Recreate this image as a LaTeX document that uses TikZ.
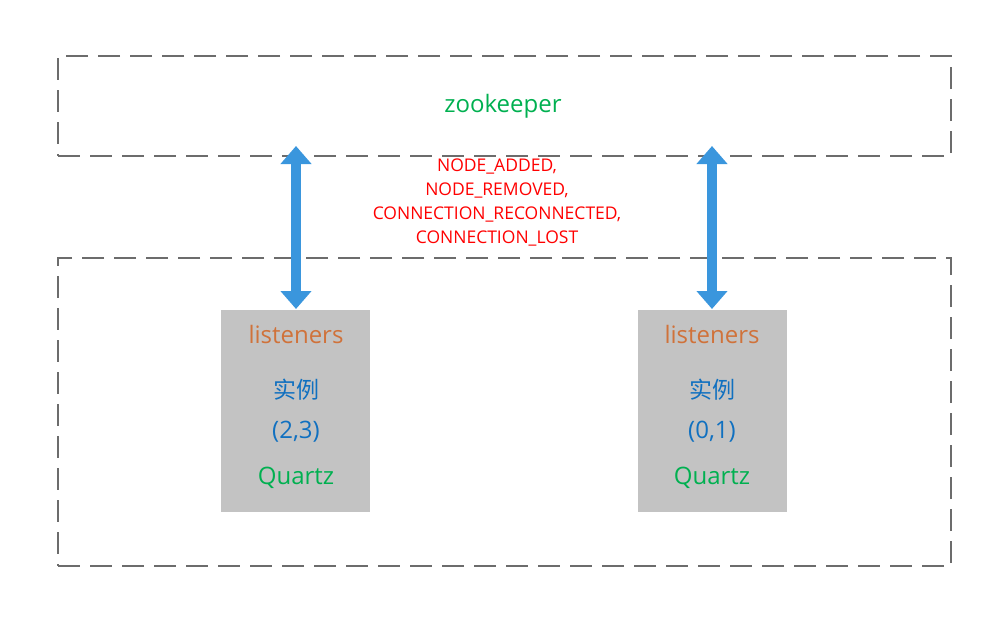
\documentclass[tikz,border=0pt]{standalone}
\usepackage{fontspec}
\setmainfont{Open Sans}
\newfontfamily\cjk{Noto Sans CJK SC}
\usetikzlibrary{arrows.meta}
\definecolor{zkgreen}{HTML}{00B050}
\definecolor{lorange}{HTML}{D0723A}
\definecolor{iblue}{HTML}{1070C0}
\definecolor{ablue}{HTML}{3A96DD}
\definecolor{boxgray}{HTML}{C3C3C3}
\begin{document}
\begin{tikzpicture}[x=1pt,y=-1pt,
  frame/.style={draw=gray!85!black,line width=2pt,dash pattern=on 22pt off 10pt},
  inst/.style={fill=boxgray,draw=none,minimum width=149pt,minimum height=202pt,anchor=north west},
  harrow/.style={ablue,line width=10pt,{Triangle[width=30pt,length=18pt]}-{Triangle[width=30pt,length=18pt]}},
  lbl/.style={font=\fontsize{24}{28}\selectfont},
  evt/.style={red,font=\fontsize{17.5}{24}\selectfont,align=center}]
\useasboundingbox (0,0) rectangle (1003,619);
\node[frame,minimum width=893pt,minimum height=100pt,anchor=north west] (zk) at (57,55) {};
\node[frame,minimum width=893pt,minimum height=308pt,anchor=north west] (cl) at (57,257) {};
\node[zkgreen,font=\fontsize{24}{28}\selectfont] (zkt) at (503,106) {zookeeper};
\node[inst] (b1) at (221,310) {};
\node[inst] (b2) at (638,310) {};
\coordinate (t1) at (296,146);
\coordinate (t2) at (712,146);
\coordinate (u1) at (296,309);
\coordinate (u2) at (712,309);
\draw[harrow] (t1) -- (u1);
\draw[harrow] (t2) -- (u2);
\node[evt] (ev) at (497,202) {NODE\_ADDED,\\ NODE\_REMOVED,\\CONNECTION\_RECONNECTED,\\CONNECTION\_LOST};
\node[lorange,lbl] (b1l) at (296,334) {listeners};
\node[iblue,font=\fontsize{23}{28}\cjk] (b1s) at (296,390) {实例};
\node[iblue,lbl] (b1n) at (296,432) {(2,3)};
\node[zkgreen,lbl] (b1q) at (296,478) {Quartz};
\node[lorange,lbl] (b2l) at (712,334) {listeners};
\node[iblue,font=\fontsize{23}{28}\cjk] (b2s) at (712,390) {实例};
\node[iblue,lbl] (b2n) at (712,432) {(0,1)};
\node[zkgreen,lbl] (b2q) at (712,478) {Quartz};
\end{tikzpicture}
\end{document}
